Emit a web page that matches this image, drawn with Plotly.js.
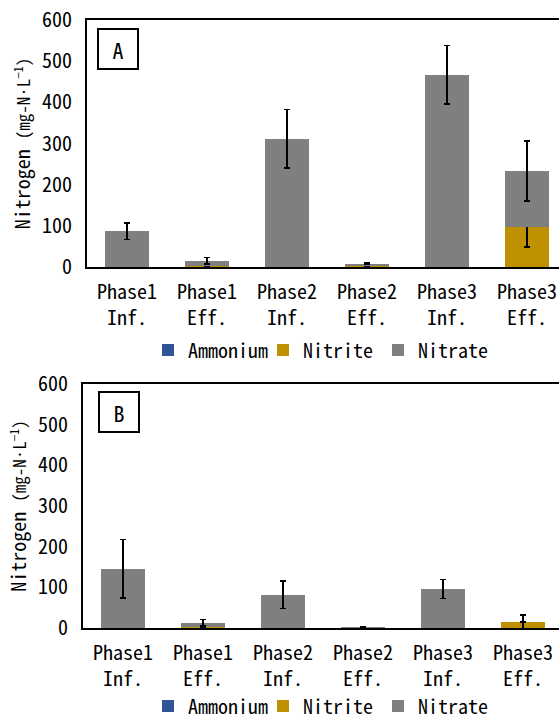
<!DOCTYPE html>
<html>
<head>
<meta charset="utf-8">
<script src="https://cdn.plot.ly/plotly-3.0.1.min.js"></script>
<style>html,body{margin:0;padding:0;background:#fff;}#chart{width:559px;height:720px;}</style>
</head>
<body>
<div id="chart"></div>
<script>
const categories = ['Phase1<br>Inf.', 'Phase1<br>Eff.', 'Phase2<br>Inf.', 'Phase2<br>Eff.', 'Phase3<br>Inf.', 'Phase3<br>Eff.'];
const seriesNames = ['Ammonium', 'Nitrite', 'Nitrate'];

// Panel A
const ammoniumA = [0.5, 0.5, 0.5, 0.5, 0.5, 0.5];
const ammoniumErrA = [0.5, 0.5, 0.5, 0.5, 0.5, 0.5];
const nitriteA = [0.5, 3, 0.5, 3, 0.5, 96];
const nitriteErrA = [0.5, 3, 0.5, 1, 0.5, 48];
const nitrateA = [86, 12, 311, 4, 466, 137];
const nitrateErrA = [20, 8, 71, 2, 71, 73];

// Panel B
const ammoniumB = [0.5, 0.5, 0.5, 0.5, 0.5, 0.5];
const ammoniumErrB = [0.5, 0.5, 0.5, 0.5, 0.5, 0.5];
const nitriteB = [0.5, 3, 0.5, 0.5, 0.5, 14];
const nitriteErrB = [0.5, 3, 0.5, 0.5, 0.5, 18];
const nitrateB = [145, 9, 81, 1, 95, 0.5];
const nitrateErrB = [72, 8, 34, 1, 23, 0.5];

const yTicks = [0, 100, 200, 300, 400, 500, 600];

const colors = ['#2F5597', '#BF9000', '#7F7F7F'];
const FONT = 'Noto Sans Mono CJK JP, Noto Sans CJK JP, Liberation Mono, monospace';

function mk(name, i, y, err, xa, ya, legend, show) {
  return {
    type: 'bar', name: name, x: categories, y: y,
    xaxis: xa, yaxis: ya, legend: legend, showlegend: show,
    marker: {color: colors[i], line: {width: 0}},
    error_y: {type: 'data', array: err, visible: true, color: '#000', thickness: 1.5, width: 3}
  };
}

const data = [
  mk(seriesNames[0], 0, ammoniumA, ammoniumErrA, 'x', 'y', 'legend', true),
  mk(seriesNames[1], 1, nitriteA, nitriteErrA, 'x', 'y', 'legend', true),
  mk(seriesNames[2], 2, nitrateA, nitrateErrA, 'x', 'y', 'legend', true),
  mk(seriesNames[0], 0, ammoniumB, ammoniumErrB, 'x2', 'y2', 'legend2', true),
  mk(seriesNames[1], 1, nitriteB, nitriteErrB, 'x2', 'y2', 'legend2', true),
  mk(seriesNames[2], 2, nitrateB, nitrateErrB, 'x2', 'y2', 'legend2', true)
];

const H = 720, W = 559;
function xaxis(domStartPx, anchor) {
  return {
    domain: [domStartPx / W, 1], anchor: anchor,
    range: [-0.5, (W - domStartPx) / 80 - 0.5],
    showline: true, linecolor: '#000', linewidth: 2, mirror: true,
    ticks: 'outside', ticklen: 6, tickcolor: 'rgba(0,0,0,0)',
    tickfont: {family: FONT, size: 20, color: '#000'},
    showgrid: false, zeroline: false, fixedrange: true
  };
}
function yaxis(topPx, botPx, anchor) {
  return {
    domain: [1 - botPx / H, 1 - topPx / H], anchor: anchor,
    range: [0, 600], tickvals: yTicks, ticktext: yTicks.map(String),
    showline: true, linecolor: '#000', linewidth: 2,
    ticks: 'outside', ticklen: 9, tickcolor: 'rgba(0,0,0,0)',
    tickfont: {family: FONT, size: 20, color: '#000'},
    showgrid: false, zeroline: false, fixedrange: true,
    title: {text: 'Nitrogen <span style="font-size:17px">(mg-N·L<sup>−1</sup>)</span>',
            font: {family: FONT, size: 20, color: '#000'}, standoff: 6}
  };
}

const legendFont = {family: FONT, size: 20, color: '#000'};
const layout = {
  width: W, height: H,
  margin: {l: 0, r: 0, t: 0, b: 0, autoexpand: false},
  paper_bgcolor: '#fff', plot_bgcolor: '#fff',
  barmode: 'stack', bargap: 0.45,
  xaxis: xaxis(87, 'y'),
  yaxis: yaxis(20, 267, 'x'),
  xaxis2: xaxis(83, 'y2'),
  yaxis2: yaxis(384, 628, 'x2'),
  legend: {orientation: 'h', x: 148 / W, xanchor: 'left', y: 1 - 350 / H, yanchor: 'middle',
           entrywidth: 70, bgcolor: 'rgba(0,0,0,0)', font: legendFont, itemclick: false, traceorder: 'normal'},
  legend2: {orientation: 'h', x: 148 / W, xanchor: 'left', y: 1 - 706 / H, yanchor: 'middle',
           entrywidth: 70, bgcolor: 'rgba(0,0,0,0)', font: legendFont, itemclick: false, traceorder: 'normal'},
  annotations: [
    {text: 'A', xref: 'x domain', yref: 'y domain', x: 0.0667, y: 0.8826, xanchor: 'center', yanchor: 'middle', showarrow: false,
     font: {family: FONT, size: 22, color: '#000'},
     bordercolor: '#000', borderwidth: 2, borderpad: 0, width: 38, height: 38, bgcolor: '#fff'},
    {text: 'B', xref: 'x2 domain', yref: 'y2 domain', x: 0.0746, y: 0.887, xanchor: 'center', yanchor: 'middle', showarrow: false,
     font: {family: FONT, size: 22, color: '#000'},
     bordercolor: '#000', borderwidth: 2, borderpad: 0, width: 38, height: 38, bgcolor: '#fff'}
  ],
  showlegend: true
};

Plotly.newPlot('chart', data, layout, {staticPlot: true, displayModeBar: false});
</script>
</body>
</html>
